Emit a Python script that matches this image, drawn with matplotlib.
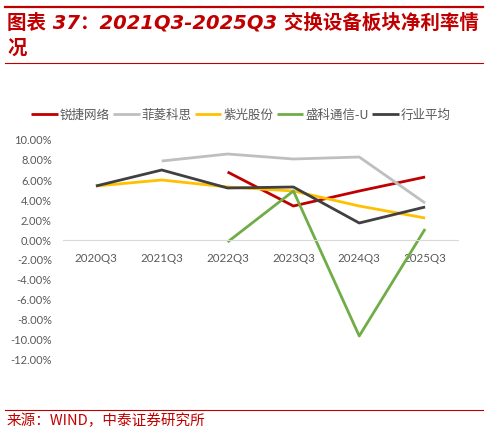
import matplotlib
matplotlib.use("Agg")
import matplotlib.pyplot as plt
from matplotlib.lines import Line2D
import numpy as np

categories = ["2020Q3", "2021Q3", "2022Q3", "2023Q3", "2024Q3", "2025Q3"]
ruijie = [None, None, 6.8, 3.4, 4.9, 6.3]
feiling = [None, 7.9, 8.6, 8.1, 8.3, 3.7]
ziguang = [5.4, 6.0, 5.3, 4.9, 3.4, 2.2]
shengke = [None, None, -0.2, 4.9, -9.6, 1.1]
industry = [5.4, 7.0, 5.2, 5.3, 1.7, 3.3]
yticks = [10, 8, 6, 4, 2, 0, -2, -4, -6, -8, -10, -12]

series = [
    ("锐捷网络", ruijie, "#C00000"),
    ("菲菱科思", feiling, "#BFBFBF"),
    ("紫光股份", ziguang, "#FFC000"),
    ("盛科通信-U", shengke, "#70AD47"),
    ("行业平均", industry, "#404040"),
]

CJK = ["Noto Sans CJK SC", "DejaVu Sans"]
W, H = 488, 433
fig = plt.figure(figsize=(W / 100, H / 100), dpi=100)

def fx(px):
    return px / W

def fy(py):
    return 1 - py / H

# title rules
fig.add_artist(Line2D([fx(5), fx(483)], [fy(6.5), fy(6.5)], color="#C00000", lw=1.6))
fig.add_artist(Line2D([fx(5), fx(483)], [fy(63), fy(63)], color="#C00000", lw=0.8))
fig.text(fx(7), fy(23), "图表 37：2021Q3-2025Q3 交换设备板块净利率情",
         family=["DejaVu Sans", "Noto Sans CJK SC"], fontsize=14, fontweight="bold",
         style="italic", color="#C00000", va="center", ha="left")
fig.text(fx(7), fy(48), "况", family=CJK, fontsize=14, fontweight="bold",
         style="italic", color="#C00000", va="center", ha="left")

# source
fig.add_artist(Line2D([fx(5), fx(483)], [fy(410), fy(410)], color="#C00000", lw=0.8))
fig.text(fx(7), fy(421), "来源：WIND，中泰证券研究所", family=CJK, fontsize=10.5,
         color="#C00000", va="center", ha="left")

ax = fig.add_axes([fx(63), fy(360), fx(458) - fx(63), fy(140) - fy(360)])
for s in ["top", "right", "left"]:
    ax.spines[s].set_visible(False)
ax.spines["bottom"].set_position(("data", 0))
ax.spines["bottom"].set_color("#D9D9D9")
ax.spines["bottom"].set_linewidth(0.8)

x = np.arange(len(categories))
handles = []
for name, vals, col in series:
    y = np.array([np.nan if v is None else v for v in vals], dtype=float)
    h, = ax.plot(x, y, color=col, lw=2.0, label=name, solid_capstyle="butt")
    handles.append(h)

ax.set_xlim(-0.5, len(categories) - 0.5)
ax.set_ylim(-12, 10)
ax.set_yticks(yticks)
ax.set_yticklabels([f"{v:.2f}%" for v in yticks], family="Lato", fontsize=8, color="#595959")
ax.set_xticks(x)
ax.set_xticklabels(categories, family="Lato", fontsize=8.3, color="#595959")
ax.tick_params(axis="x", length=0, pad=9)
ax.tick_params(axis="y", length=0, pad=8)
ax.set_zorder(1)
ax.patch.set_alpha(0)

fig.legend(handles=handles, loc="center", bbox_to_anchor=(fx(241), fy(115)), ncol=5,
           frameon=False, prop={"family": CJK, "size": 9}, labelcolor="#595959",
           handlelength=2.1, handletextpad=0.15, columnspacing=0.3, borderaxespad=0)

fig.savefig("out.png", dpi=100)
